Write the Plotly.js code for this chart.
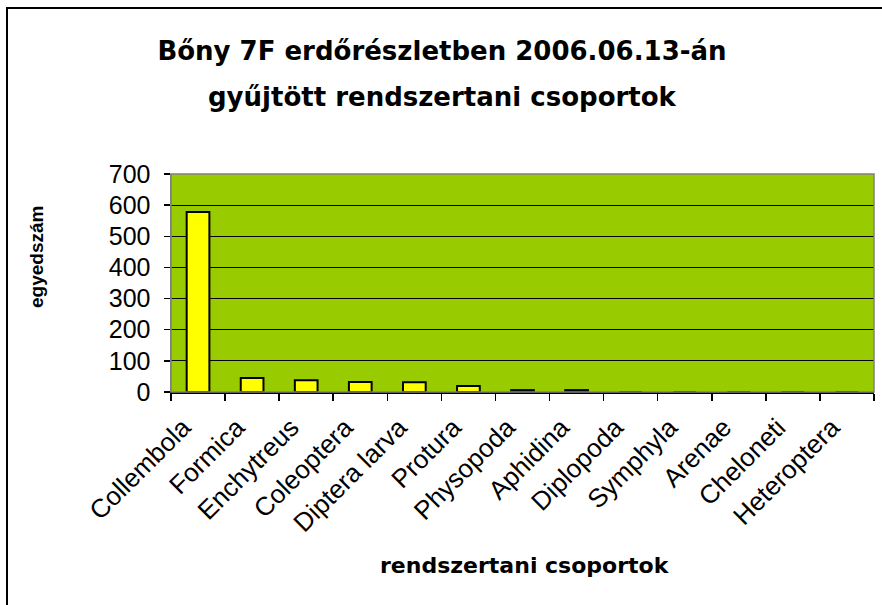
<!DOCTYPE html>
<html>
<head>
<meta charset="utf-8">
<script src="https://cdn.plot.ly/plotly-3.0.1.min.js"></script>
<style>
html,body{margin:0;padding:0;background:#fff;}
#chart{width:882px;height:605px;}
</style>
</head>
<body>
<div id="chart"></div>
<script>
const categories = ["Collembola","Formica","Enchytreus","Coleoptera","Diptera larva","Protura","Physopoda","Aphidina","Diplopoda","Symphyla","Arenae","Cheloneti","Heteroptera"];
const values = [578, 45, 38, 32, 31, 19, 6, 6, 0, 0, 0, 0, 0];
const yTicks = [0, 100, 200, 300, 400, 500, 600, 700];
const titleLine1 = "Bőny 7F erdőrészletben 2006.06.13-án";
const titleLine2 = "gyűjtött rendszertani csoportok";
const xTitle = "rendszertani csoportok";
const yTitle = "egyedszám";

const W = 882, H = 605;
const L = 171, R = 8, T = 174, B = 213;
const pw = W - L - R, ph = H - T - B;
const px = x => (x - L) / pw;
const py = y => (H - B - y) / ph;

const trace = {
  type: 'bar',
  x: categories,
  y: values,
  marker: {color: '#FFFF00', line: {color: '#000000', width: 2}},
  hoverinfo: 'x+y'
};

const layout = {
  width: W, height: H,
  margin: {l: L, r: R, t: T, b: B, pad: 0},
  paper_bgcolor: '#FFFFFF',
  plot_bgcolor: '#99CC00',
  showlegend: false,
  bargap: 0.58,
  font: {family: 'Liberation Sans, Arial, sans-serif', color: '#000'},
  title: {
    text: '<b>' + titleLine1 + '</b>',
    font: {family: 'DejaVu Sans, sans-serif', size: 26, color: '#000'},
    xref: 'paper', x: px(442), xanchor: 'center',
    yref: 'container', y: 1 - 51 / H, yanchor: 'middle'
  },
  xaxis: {
    type: 'category',
    tickangle: -45,
    tickfont: {family: 'Liberation Sans, Arial, sans-serif', size: 26, color: '#000'},
    ticks: 'outside', tickson: 'boundaries', ticklen: 7, tickwidth: 1.5, tickcolor: '#000',
    ticklabelstandoff: 8, ticklabelshift: -15,
    showline: true, linecolor: '#000', linewidth: 2,
    showgrid: false, zeroline: false, fixedrange: true
  },
  yaxis: {
    range: [0, 700],
    tickvals: yTicks,
    ticktext: yTicks.map(String),
    tickfont: {family: 'Liberation Sans, Arial, sans-serif', size: 25, color: '#000'},
    ticks: 'outside', ticklen: 6, tickwidth: 1.5, tickcolor: '#000',
    ticklabelstandoff: 8,
    showline: true, linecolor: '#808080', linewidth: 1.5,
    showgrid: true, gridcolor: '#000', gridwidth: 1,
    zeroline: false, fixedrange: true
  },
  shapes: [
    {type: 'rect', xref: 'paper', yref: 'paper', x0: 0, x1: 1, y0: 0, y1: 1,
     line: {color: '#808080', width: 1.5}, fillcolor: 'rgba(0,0,0,0)', layer: 'above'},
    {type: 'rect', xref: 'paper', yref: 'paper', x0: px(7), x1: px(895), y0: py(8), y1: py(620),
     line: {color: '#000', width: 2}, fillcolor: 'rgba(0,0,0,0)', layer: 'below'}
  ],
  annotations: [
    {text: '<b>' + titleLine2 + '</b>', xref: 'paper', yref: 'paper',
     x: px(442), y: py(97), xanchor: 'center', yanchor: 'middle', showarrow: false,
     font: {family: 'DejaVu Sans, sans-serif', size: 26, color: '#000'}},
    {text: '<b>' + yTitle + '</b>', xref: 'paper', yref: 'paper',
     x: px(36), y: py(257), xanchor: 'center', yanchor: 'middle', textangle: -90, showarrow: false,
     font: {family: 'Liberation Sans, Arial, sans-serif', size: 19, color: '#000'}},
    {text: '<b>' + xTitle + '</b>', xref: 'paper', yref: 'paper',
     x: px(525), y: py(565), xanchor: 'center', yanchor: 'middle', showarrow: false,
     font: {family: 'DejaVu Sans, sans-serif', size: 22, color: '#000'}}
  ]
};

Plotly.newPlot('chart', [trace], layout, {displayModeBar: false, staticPlot: true});
</script>
</body>
</html>
